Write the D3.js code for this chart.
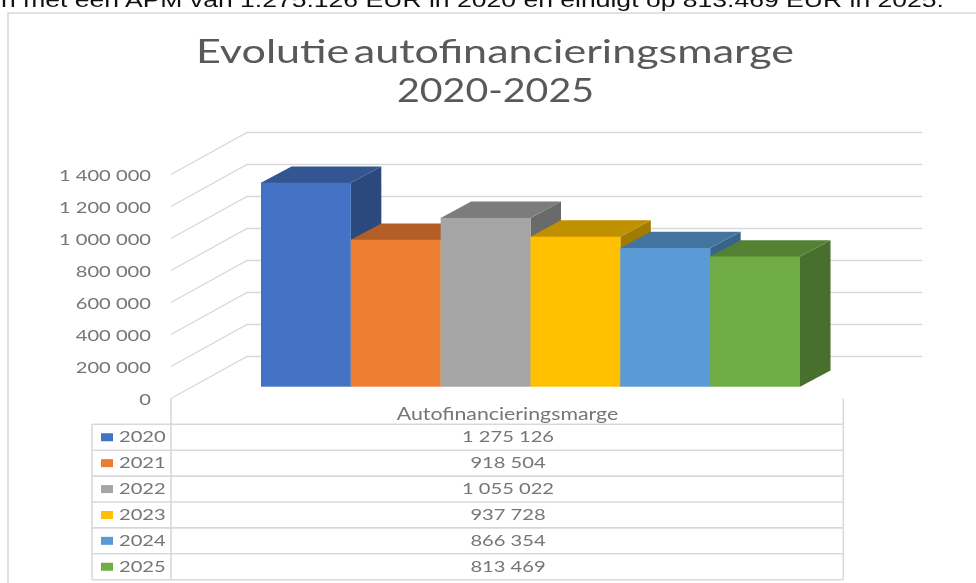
<!DOCTYPE html>
<html>
<head>
<meta charset="utf-8">
<script src="https://cdn.jsdelivr.net/npm/d3@7"></script>
<style>
html,body{margin:0;padding:0;background:#fff;overflow:hidden}
svg{display:block;filter:blur(0.45px)}
</style>
</head>
<body>
<svg id="chart" width="976" height="583"></svg>
<script>
const years = ["2020","2021","2022","2023","2024","2025"];
const values = [1275126, 918504, 1055022, 937728, 866354, 813469];
const barColors = ["#4472c4","#ed7d31","#a5a5a5","#ffc000","#5b9bd5","#70ad47"];
const yTicks = [0,200000,400000,600000,800000,1000000,1200000,1400000];
const titleLines = ["Evolutie autofinancieringsmarge","2020-2025"];
const seriesName = "Autofinancieringsmarge";
const bodyText = "n met een APM van 1.275.126 EUR in 2020 en eindigt op 813.469 EUR in 2025.";

const svg = d3.select("#chart");
const fmt = d3.formatLocale({decimal:",",thousands:" ",grouping:[3],currency:["","€"]}).format(",d");
const LINE = "#d9d9d9", TEXT = "#767676", FONT = "Lato, sans-serif";

// scales
const h = d3.scaleLinear().domain([0,1400000]).range([0,224]);
const x = d3.scaleBand().domain(years).range([261,800]);
const color = d3.scaleOrdinal().domain(years).range(barColors);
const shade = (c,k)=>{const r=d3.rgb(c);return d3.rgb(r.r*k,r.g*k,r.b*k).formatHex();};

// page text and frame
svg.append("text").attr("x",1).attr("y",7).attr("font-family","'Liberation Sans',Arial,sans-serif")
  .attr("font-size",21).attr("fill","#111").attr("textLength",943).attr("lengthAdjust","spacingAndGlyphs").text(bodyText);
svg.append("path").attr("d","M8,583V13H976").attr("fill","none").attr("stroke",LINE).attr("stroke-width",1.6);

// title
[[196,598,63],[397,197,102]].forEach((t,i)=>{
  svg.append("text").attr("x",t[0]).attr("y",t[2]).attr("font-family",FONT).attr("font-size",33)
    .attr("word-spacing",-5)
    .attr("fill","#595959").attr("textLength",t[1]).attr("lengthAdjust","spacingAndGlyphs").text(titleLines[i]);
});

// gridlines on floor-edge and back wall
const frontY0=398.5, wallDx=76, wallDy=42, wallRight=922;
const grid = svg.append("g");
yTicks.forEach(v=>{
  const yf=frontY0-h(v);
  grid.append("path").attr("d",d3.line()([[171,yf],[171+wallDx,yf-wallDy],[wallRight,yf-wallDy]]))
    .attr("fill","none").attr("stroke",LINE).attr("stroke-width",1.3);
});

// y axis
const axisScale = d3.scaleLinear().domain([0,1400000]).range([0,-224]);
const axis = svg.append("g").attr("transform",`translate(151,${frontY0+1}) scale(1.3,1)`)
  .call(d3.axisLeft(axisScale).tickValues(yTicks).tickSize(0).tickPadding(0).tickFormat(fmt));
axis.select(".domain").remove();
axis.selectAll("text").attr("font-family",FONT).attr("font-size",15.5).attr("fill",TEXT);

// 3D bars, painted left to right
const floorY=386.7, dx=30.5, dy=16.3;
const bars = svg.append("g").selectAll("g").data(years).join("g");
bars.each(function(yr,i){
  const g=d3.select(this), x0=x(yr), x1=x0+x.bandwidth(), top=floorY-h(values[i]), c=color(yr);
  g.append("path").attr("fill",shade(c,.64))
    .attr("d",d3.line()([[x1,floorY],[x1+dx,floorY-dy],[x1+dx,top-dy],[x1,top]])+"Z");
  // top face runs a pixel under the front face so no seam shows between them
  g.append("path").attr("fill",shade(c,.75))
    .attr("d",d3.line()([[x0,top+1],[x0,top],[x0+dx,top-dy],[x1+dx,top-dy],[x1,top],[x1,top+1]])+"Z");
  g.append("rect").attr("x",x0).attr("y",top).attr("width",x.bandwidth()).attr("height",floorY-top).attr("fill",c);
});

// data table
const tLeft=92, tMid=171, tRight=843.3, tTop=424.3, rowH=25.9;
const rowY = d3.scaleLinear().domain([0,6]).range([tTop,tTop+6*rowH]);
const tbl = svg.append("g").attr("stroke",LINE).attr("stroke-width",1.6);
d3.range(7).forEach(r=>tbl.append("line").attr("x1",tLeft).attr("x2",tRight).attr("y1",rowY(r)).attr("y2",rowY(r)));
tbl.append("line").attr("x1",tLeft).attr("x2",tLeft).attr("y1",tTop).attr("y2",rowY(6));
tbl.append("line").attr("x1",tMid).attr("x2",tMid).attr("y1",frontY0).attr("y2",rowY(6));
tbl.append("line").attr("x1",tRight).attr("x2",tRight).attr("y1",frontY0).attr("y2",rowY(6));

const stretched=(px,py,s,anchor,size)=>svg.append("text")
  .attr("transform",`translate(${px},${py}) scale(1.3,1)`)
  .attr("text-anchor",anchor).attr("font-family",FONT).attr("font-size",size).attr("fill",TEXT).text(s);

stretched(507.5,419.5,seriesName,"middle",16.4);
years.forEach((yr,i)=>{
  const cy=rowY(i)+rowH/2;
  svg.append("rect").attr("x",101).attr("y",cy-4).attr("width",12).attr("height",8).attr("fill",color(yr));
  stretched(119,cy+5.2,yr,"start",15.5);
  stretched(508,cy+5.2,fmt(values[i]),"middle",15.5);
});
</script>
</body>
</html>
